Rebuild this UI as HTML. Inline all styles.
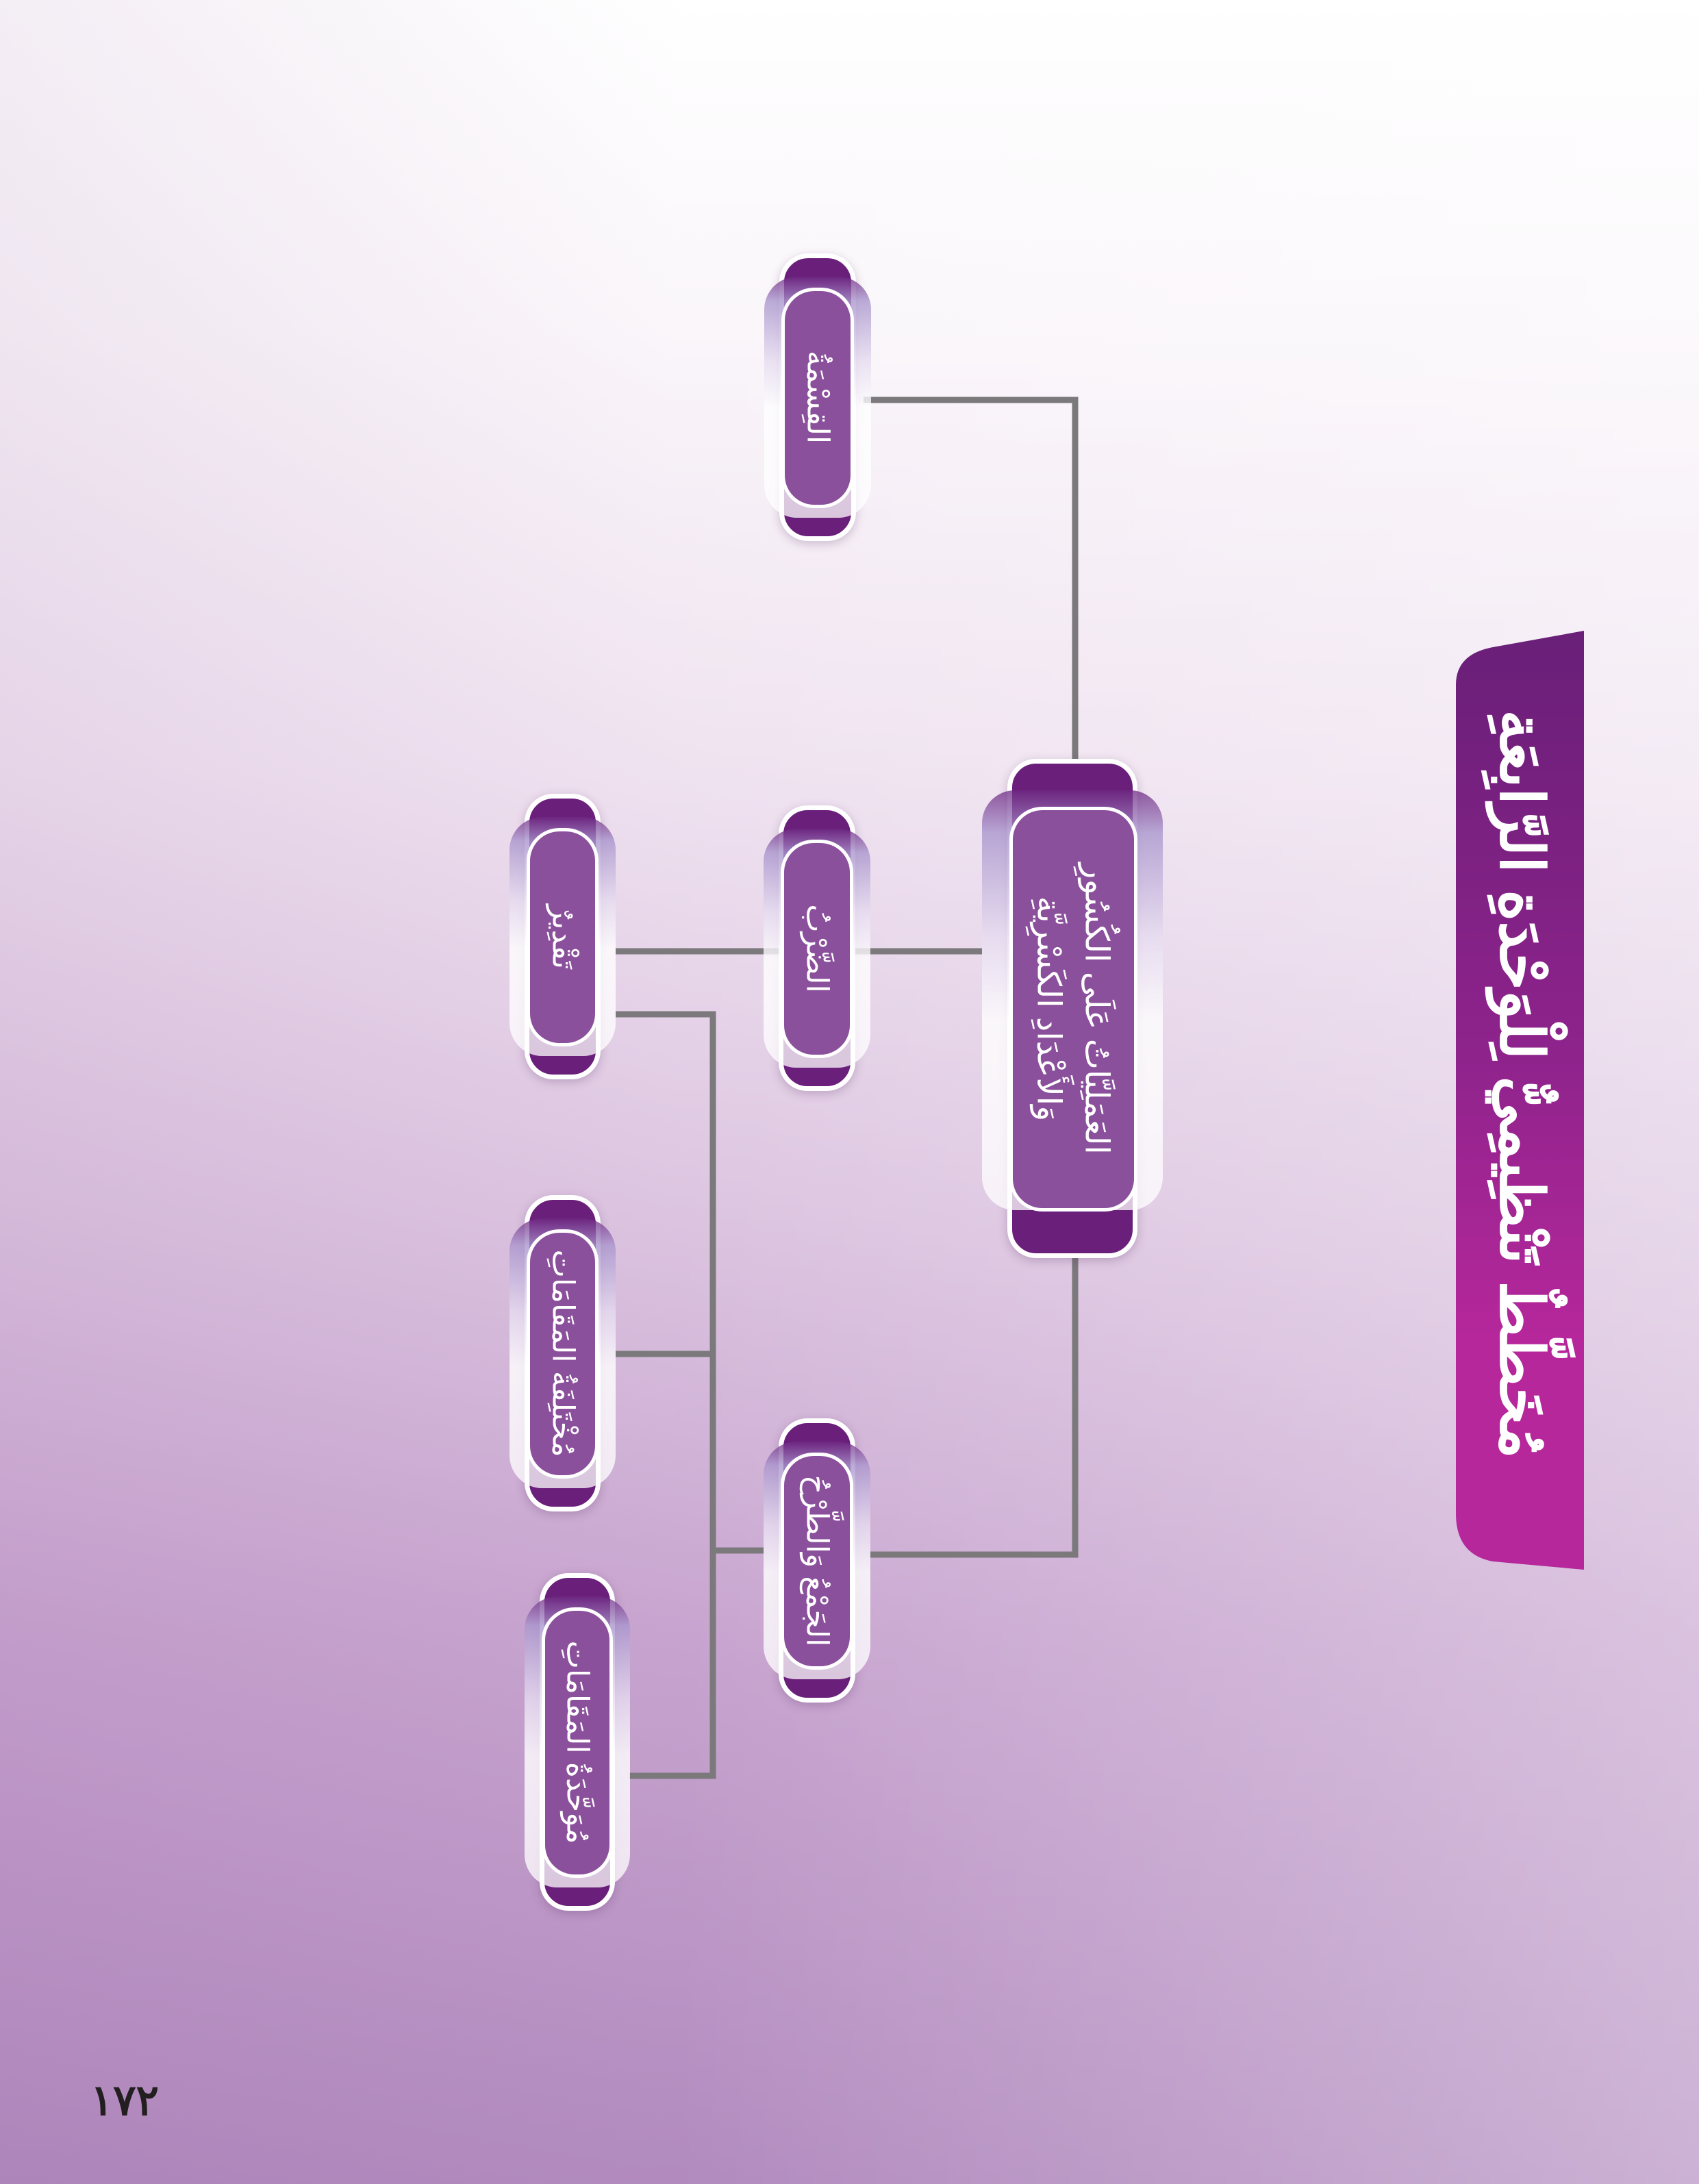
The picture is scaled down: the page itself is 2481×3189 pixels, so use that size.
<!DOCTYPE html>
<html><head><meta charset="utf-8">
<style>
html,body{margin:0;padding:0}
body{width:2481px;height:3189px;position:relative;overflow:hidden;
background:linear-gradient(to bottom,#ffffff 0%,#faf6fa 15%,#efe2f0 35%,#dcc4e0 55%,#c6a2ce 75%,#b088bd 100%);
font-family:"Liberation Sans","Noto Sans CJK SC",sans-serif}
.ov{position:absolute;inset:0;background:linear-gradient(to right,rgba(160,110,170,0.12) 0%,rgba(255,255,255,0.02) 40%,rgba(255,255,255,0.35) 100%)}
svg.l{position:absolute;left:0;top:0}
.box{position:absolute}
.tall{position:absolute;left:14%;right:14%;top:0;bottom:0;background:#6a1f7a;border:7px solid #fff;border-radius:42px;box-sizing:border-box;box-shadow:0 4px 14px rgba(80,40,90,.25)}
.glass{position:absolute;left:0;right:0;top:34px;bottom:34px;border-radius:48px;
background:linear-gradient(to bottom,rgba(110,40,130,.75) 0,rgba(170,150,205,.8) 10%,rgba(230,220,240,.8) 35%,rgba(255,255,255,.8) 55%,rgba(255,255,255,.75) 100%)}
.inner{position:absolute;left:16%;right:16%;top:50px;bottom:48px;background:#8b509c;border:5px solid #fff;border-radius:48px;box-sizing:border-box}
.t{position:absolute;left:50%;top:50%;transform:translate(-50%,-50%) rotate(90deg);color:#fff;white-space:nowrap;direction:rtl;text-align:center;font-size:44px;line-height:1.35;font-family:"Liberation Sans","Noto Sans CJK SC",sans-serif}
</style></head><body>
<div class="ov"></div>

<svg class="l" width="2481" height="3189">
<g stroke="#7b797b" stroke-width="9" fill="none">
<polyline points="1261,584 1570,584 1570,1110"/>
<polyline points="1570,1835 1570,2270 1271,2270"/>
<line x1="899" y1="1389" x2="1434" y2="1389"/>
<polyline points="899,1481 1041,1481 1041,2593 919,2593"/>
<line x1="899" y1="1977" x2="1041" y2="1977"/>
<line x1="1041" y1="2264" x2="1115" y2="2264"/>
</g>
</svg>

<svg class="l" width="2481" height="3189">
<defs><linearGradient id="tg" x1="0" y1="0" x2="0" y2="1">
<stop offset="0" stop-color="#691f78"/><stop offset="0.45" stop-color="#8e238c"/><stop offset="0.75" stop-color="#b5279b"/><stop offset="1" stop-color="#b5279b"/></linearGradient></defs>
<path d="M2313,921 L2313,2292 L2180,2280 Q2126,2270 2126,2210 L2126,1000 Q2126,955 2180,945 Z" fill="url(#tg)"/>
</svg>
<div style="position:absolute;left:2222px;top:1583px;transform:translate(-50%,-50%) rotate(90deg);color:#fff;font-weight:bold;font-size:88px;white-space:nowrap;direction:rtl;font-family:'Liberation Sans','Noto Sans CJK SC',sans-serif">مُخَطَّطٌ تَنْظِيمِيٌّ لِلْوَحْدَةِ الرَّابِعَةِ</div>

<div class="box" style="left:1434px;top:1108px;width:264px;height:729px">
<div class="tall"></div><div class="glass" style="top:46px;bottom:70px"></div><div class="inner" style="left:15%;right:14%;top:70px;bottom:68px"></div>
<div class="t" style="font-size:48px;line-height:1.45">العَمَلِيَّاتُ عَلَى الكُسُورِ<br>وَالأَعْدَادِ الكَسْرِيَّةِ</div>
</div>

<div class="box" style="left:1116px;top:370px;width:156px;height:420px">
<div class="tall"></div><div class="glass"></div><div class="inner"></div>
<div class="t">القِسْمَةُ</div></div>

<div class="box" style="left:1115px;top:1176px;width:156px;height:417px">
<div class="tall"></div><div class="glass"></div><div class="inner"></div>
<div class="t">الضَّرْبُ</div></div>

<div class="box" style="left:1115px;top:2071px;width:156px;height:415px">
<div class="tall"></div><div class="glass"></div><div class="inner"></div>
<div class="t">الجَمْعُ وَالطَّرْحُ</div></div>

<div class="box" style="left:744px;top:1159px;width:155px;height:417px">
<div class="tall"></div><div class="glass"></div><div class="inner"></div>
<div class="t">تَقْدِيرٌ</div></div>

<div class="box" style="left:744px;top:1745px;width:155px;height:462px">
<div class="tall"></div><div class="glass"></div><div class="inner"></div>
<div class="t">مُخْتَلِفَةُ المَقَامَاتِ</div></div>

<div class="box" style="left:766px;top:2297px;width:154px;height:493px">
<div class="tall"></div><div class="glass"></div><div class="inner"></div>
<div class="t">مُوَحَّدَةُ المَقَامَاتِ</div></div>

<div style="position:absolute;left:132px;top:3030px;font-size:62px;font-weight:bold;color:#231f20;font-family:'Liberation Sans','Noto Sans CJK SC',sans-serif">١٧٢</div>
</body></html>
